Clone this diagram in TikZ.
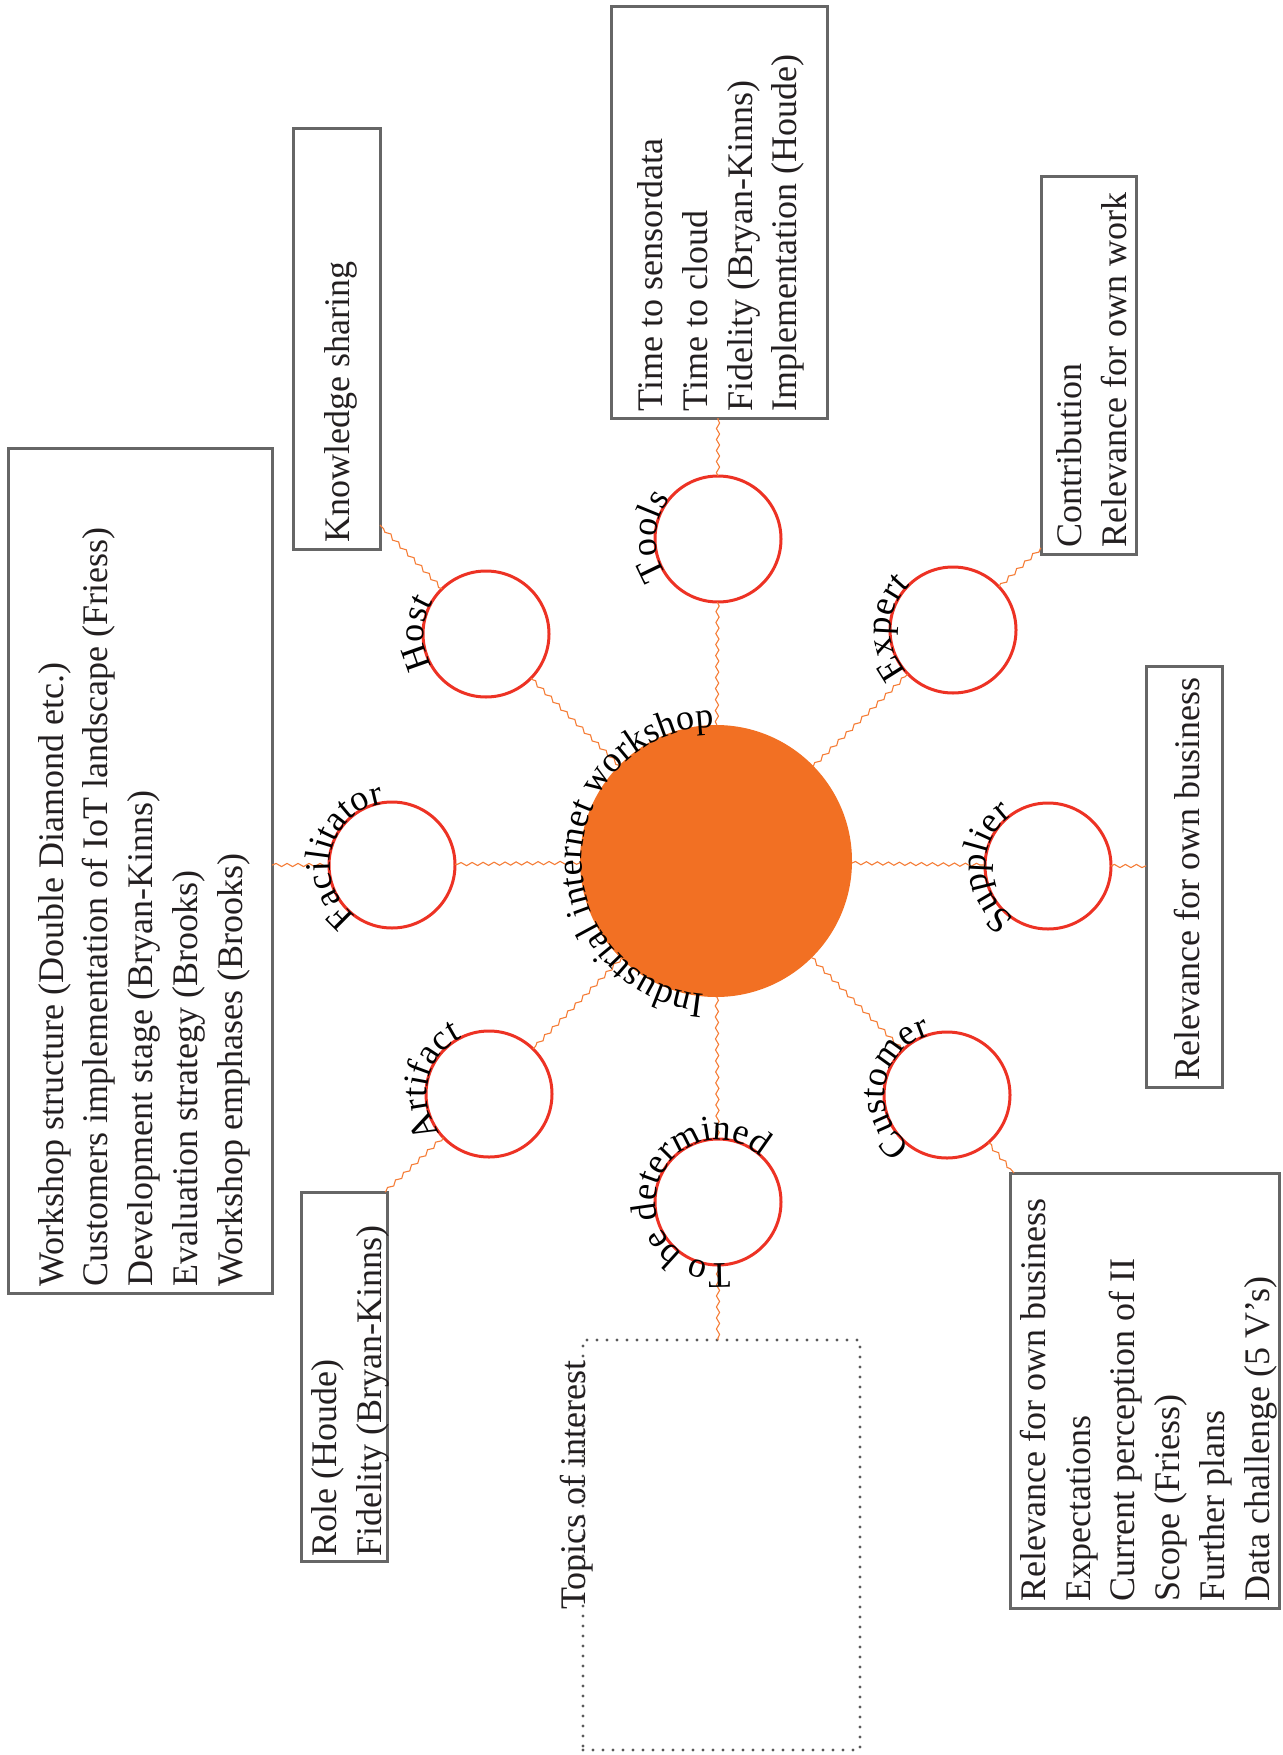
\documentclass[tikz,border=0pt]{standalone}
\usepackage{fontspec}
\setmainfont{Liberation Serif}
\usetikzlibrary{decorations.text,decorations.pathmorphing}

\definecolor{hubfill}{RGB}{242,112,35}
\definecolor{ringred}{RGB}{237,50,36}
\definecolor{wirecol}{RGB}{245,125,55}
\definecolor{framecol}{RGB}{102,102,102}
\definecolor{dotcol}{RGB}{90,90,90}
\definecolor{ink}{RGB}{35,31,32}

\newcommand\diagfont{\fontsize{18}{22.4}\selectfont}
% label set along the outside of a circle node: node, centre angle, radius, text
\newcommand\ringlabel[4]{%
  \path[color=ink, decorate,
        decoration={text along path, text={|\diagfont|#4}, text align=center}]
    (#1) ++({#2-170}:#3) arc ({#2-170}:{#2+170}:#3);}

\begin{document}
\begin{tikzpicture}[x=0.5pt, y=-0.5pt,
  hub/.style={circle, fill=hubfill, minimum size=136pt, inner sep=0pt, outer sep=0pt},
  role/.style={circle, draw=ringred, line width=1.5pt, fill=white,
               minimum size=63pt, inner sep=0pt, outer sep=0pt},
  card/.style={rectangle, draw=framecol, line width=1.5pt, inner sep=0pt,
               outer sep=0pt, anchor=north west},
  dotcard/.style={rectangle, draw=dotcol, line width=1.7pt, line cap=round,
                  dash pattern=on 0pt off 5pt, inner sep=0pt, outer sep=0pt,
                  anchor=north west},
  wire/.style={draw=wirecol, line width=0.55pt, decorate,
               decoration={snake, segment length=5.5pt, amplitude=0.8pt}},
  cardtext/.style={rotate=90, anchor=west, align=left, inner sep=0pt,
                   font=\diagfont, text=ink}]
\useasboundingbox (0,0) rectangle (1282,1755);

% hub and the eight roles around it
\node[hub] (hub) at (716,861) {};
\node[role] (tools)       at (718,539)  {};
\node[role] (expert)      at (953,630)  {};
\node[role] (supplier)    at (1048,866) {};
\node[role] (customer)    at (947,1095) {};
\node[role] (tbd)         at (718,1202) {};
\node[role] (artifact)    at (489,1094) {};
\node[role] (facilitator) at (392,865)  {};
\node[role] (host)        at (486,634)  {};

% topic cards
\node[card, minimum width=132pt, minimum height=422.5pt] (facbox)  at (8,448)    {};
\node[card, minimum width=43.5pt, minimum height=210pt]  (hostbox) at (293,129)  {};
\node[card, minimum width=108pt, minimum height=205.5pt] (toolbox) at (611,7)    {};
\node[card, minimum width=47.5pt, minimum height=188.5pt] (expbox) at (1041,177) {};
\node[card, minimum width=38pt, minimum height=210.5pt]  (supbox)  at (1146,666) {};
\node[card, minimum width=134.5pt, minimum height=217.5pt] (cusbox) at (1010,1173) {};
\node[card, minimum width=43pt, minimum height=184.5pt]  (artbox)  at (301,1192) {};
\node[dotcard, minimum width=138.5pt, minimum height=205pt] (tbdbox) at (583,1340) {};

% wavy connectors: hub to roles
\foreach \r in {tools,expert,supplier,customer,tbd,artifact,facilitator,host}
  \draw[wire] (hub) -- (\r);

% wavy connectors: roles to cards
\draw[wire] (tools) -- (tools |- toolbox.south);
\draw[wire] (host) -- ([yshift=12pt]hostbox.south east);
\draw[wire] (expert) -- ([yshift=3pt]expbox.south west);
\draw[wire] (supplier) -- (supplier -| supbox.west);
\draw[wire] (customer) -- ([xshift=2pt]cusbox.north west);
\draw[wire] (tbd) -- (tbd |- tbdbox.north);
\draw[wire] (artifact) -- ([xshift=-1pt]artbox.north east);
\draw[wire] (facilitator) -- (facilitator -| facbox.east);

% curved labels
\ringlabel{hub}{182}{134}{Industrial internet workshop}
\ringlabel{tools}{182}{62}{Tools}
\ringlabel{expert}{182}{62}{Expert}
\ringlabel{supplier}{179}{62}{Supplier}
\ringlabel{customer}{190}{62}{Customer}
\ringlabel{tbd}{196}{62}{To be determined}
\ringlabel{artifact}{193}{62}{Artifact}
\ringlabel{facilitator}{194}{62}{Facilitator}
\ringlabel{host}{180}{62}{Host}

% card texts
\node[cardtext] (factext) at ([shift={(2pt,3pt)}]facbox.south)
  {Workshop structure (Double Diamond etc.)\\Customers implementation of IoT landscape (Friess)\\Development stage (Bryan-Kinns)\\Evaluation strategy (Brooks)\\Workshop emphases (Brooks)};
\node[cardtext] (hosttext) at ([shift={(2pt,3pt)}]hostbox.south) {Knowledge sharing};
\node[cardtext] (tooltext) at ([shift={(1pt,3pt)}]toolbox.south)
  {Time to sensordata\\Time to cloud\\Fidelity (Bryan-Kinns)\\Implementation (Houde)};
\node[cardtext] (exptext) at ([shift={(1.5pt,3pt)}]expbox.south)
  {Contribution\\Relevance for own work};
\node[cardtext] (suptext) at ([shift={(1.5pt,3pt)}]supbox.south) {Relevance for own business};
\node[cardtext] (custext) at ([shift={(2pt,3pt)}]cusbox.south)
  {Relevance for own business\\Expectations\\Current perception of II\\Scope (Friess)\\Further plans\\Data challenge (5 V’s)};
\node[cardtext] (arttext) at ([shift={(3pt,2pt)}]artbox.south)
  {Role (Houde)\\Fidelity (Bryan-Kinns)};
\node[cardtext, anchor=base west] (tbdtext) at ([shift={(1pt,70pt)}]tbdbox.south west)
  {Topics of interest};
\end{tikzpicture}
\end{document}
